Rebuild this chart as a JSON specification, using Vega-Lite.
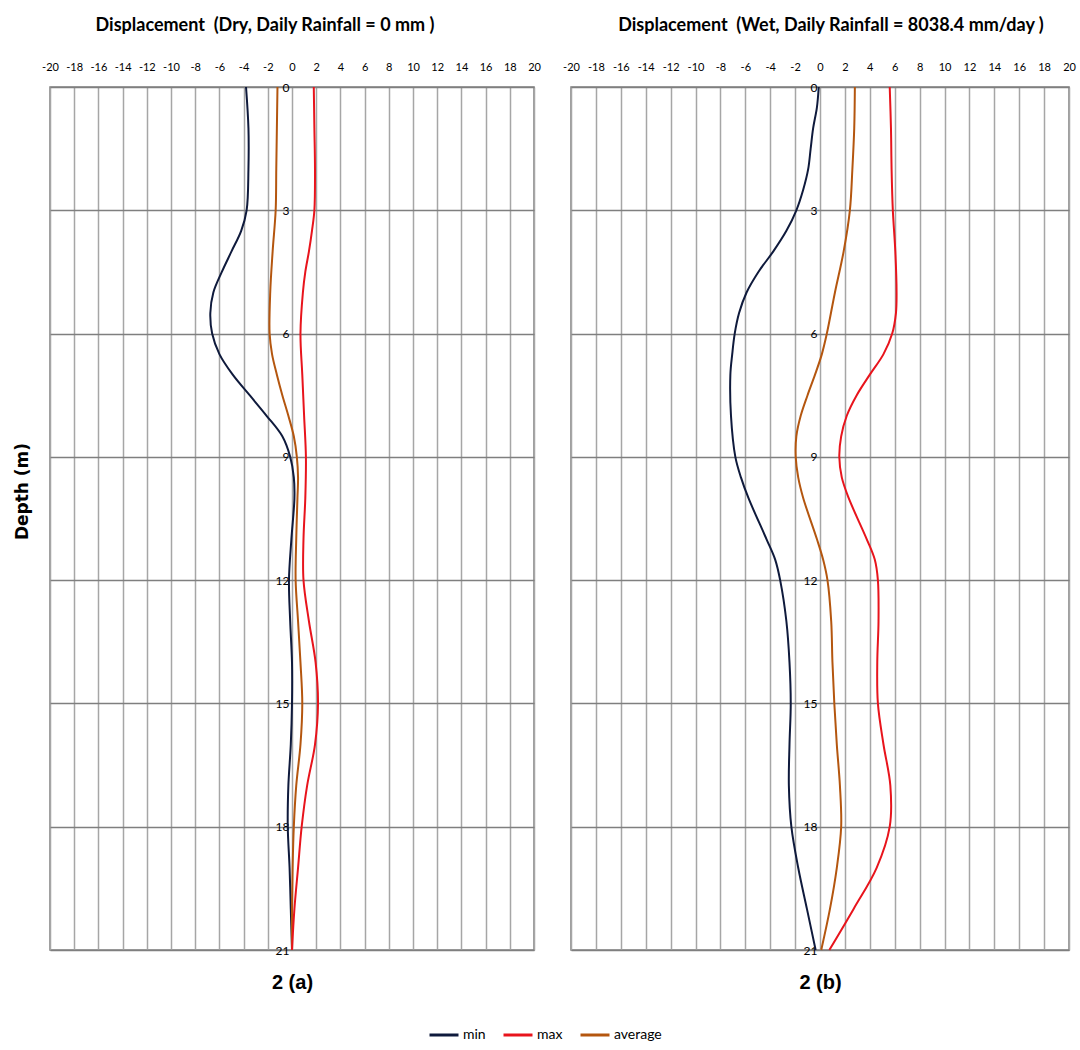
{
  "$schema": "https://vega.github.io/schema/vega-lite/v6.json",
  "background": "white",
  "padding": {"left": 12, "top": 16, "right": 0, "bottom": 0},
  "bounds": "flush",
  "spacing": 37,
  "config": {
    "font": "Lato",
    "view": {"stroke": "#7f7f7f", "strokeWidth": 1.5},
    "axis": {"labelFont": "Lato", "labelColor": "#000000", "titleColor": "#000000", "labelFontSize": 11},
    "title": {"font": "Lato", "fontSize": 18, "fontWeight": "bold", "color": "#000000", "offset": 26, "anchor": "middle"},
    "legend": {"labelFont": "Lato", "labelColor": "#000000"}
  },
  "datasets": {
    "dry": [
      {"series": "min", "depth": 0, "disp": -3.8},
      {"series": "min", "depth": 1, "disp": -3.6},
      {"series": "min", "depth": 2, "disp": -3.6},
      {"series": "min", "depth": 3, "disp": -3.75},
      {"series": "min", "depth": 3.5, "disp": -4.2},
      {"series": "min", "depth": 4, "disp": -5.0},
      {"series": "min", "depth": 4.5, "disp": -5.8},
      {"series": "min", "depth": 5, "disp": -6.5},
      {"series": "min", "depth": 5.5, "disp": -6.75},
      {"series": "min", "depth": 6, "disp": -6.6},
      {"series": "min", "depth": 6.5, "disp": -6.0},
      {"series": "min", "depth": 7, "disp": -4.9},
      {"series": "min", "depth": 7.5, "disp": -3.5},
      {"series": "min", "depth": 8, "disp": -2.1},
      {"series": "min", "depth": 8.5, "disp": -0.8},
      {"series": "min", "depth": 9, "disp": -0.15},
      {"series": "min", "depth": 9.5, "disp": 0.15},
      {"series": "min", "depth": 10, "disp": 0.2},
      {"series": "min", "depth": 11, "disp": -0.05},
      {"series": "min", "depth": 12, "disp": -0.25},
      {"series": "min", "depth": 13, "disp": -0.15},
      {"series": "min", "depth": 14, "disp": 0},
      {"series": "min", "depth": 15, "disp": 0},
      {"series": "min", "depth": 16, "disp": -0.1},
      {"series": "min", "depth": 17, "disp": -0.3},
      {"series": "min", "depth": 18, "disp": -0.35},
      {"series": "min", "depth": 19, "disp": -0.2},
      {"series": "min", "depth": 20, "disp": -0.1},
      {"series": "min", "depth": 21, "disp": 0},
      {"series": "average", "depth": 0, "disp": -1.2},
      {"series": "average", "depth": 1, "disp": -1.25},
      {"series": "average", "depth": 2, "disp": -1.3},
      {"series": "average", "depth": 3, "disp": -1.35},
      {"series": "average", "depth": 4, "disp": -1.6},
      {"series": "average", "depth": 5, "disp": -1.8},
      {"series": "average", "depth": 6, "disp": -1.85},
      {"series": "average", "depth": 6.5, "disp": -1.65},
      {"series": "average", "depth": 7, "disp": -1.25},
      {"series": "average", "depth": 7.5, "disp": -0.8},
      {"series": "average", "depth": 8, "disp": -0.3},
      {"series": "average", "depth": 8.5, "disp": 0.15},
      {"series": "average", "depth": 9, "disp": 0.4},
      {"series": "average", "depth": 9.5, "disp": 0.5},
      {"series": "average", "depth": 10, "disp": 0.45},
      {"series": "average", "depth": 11, "disp": 0.35},
      {"series": "average", "depth": 12, "disp": 0.3},
      {"series": "average", "depth": 13, "disp": 0.5},
      {"series": "average", "depth": 14, "disp": 0.7},
      {"series": "average", "depth": 15, "disp": 0.85},
      {"series": "average", "depth": 16, "disp": 0.7},
      {"series": "average", "depth": 17, "disp": 0.35},
      {"series": "average", "depth": 18, "disp": 0.15},
      {"series": "average", "depth": 19, "disp": 0.05},
      {"series": "average", "depth": 20, "disp": 0},
      {"series": "average", "depth": 21, "disp": 0},
      {"series": "max", "depth": 0, "disp": 1.8},
      {"series": "max", "depth": 1, "disp": 1.85},
      {"series": "max", "depth": 2, "disp": 1.9},
      {"series": "max", "depth": 3, "disp": 1.85},
      {"series": "max", "depth": 3.5, "disp": 1.65},
      {"series": "max", "depth": 4, "disp": 1.4},
      {"series": "max", "depth": 4.5, "disp": 1.1},
      {"series": "max", "depth": 5, "disp": 0.9},
      {"series": "max", "depth": 6, "disp": 0.7},
      {"series": "max", "depth": 7, "disp": 0.85},
      {"series": "max", "depth": 8, "disp": 1.0},
      {"series": "max", "depth": 9, "disp": 1.15},
      {"series": "max", "depth": 10, "disp": 1.1},
      {"series": "max", "depth": 11, "disp": 0.95},
      {"series": "max", "depth": 12, "disp": 0.95},
      {"series": "max", "depth": 13, "disp": 1.4},
      {"series": "max", "depth": 14, "disp": 1.95},
      {"series": "max", "depth": 15, "disp": 2.15},
      {"series": "max", "depth": 16, "disp": 1.9},
      {"series": "max", "depth": 17, "disp": 1.25},
      {"series": "max", "depth": 18, "disp": 0.8},
      {"series": "max", "depth": 19, "disp": 0.5},
      {"series": "max", "depth": 20, "disp": 0.2},
      {"series": "max", "depth": 21, "disp": 0}
    ],
    "wet": [
      {"series": "min", "depth": 0, "disp": -0.1},
      {"series": "min", "depth": 0.5, "disp": -0.25},
      {"series": "min", "depth": 1, "disp": -0.55},
      {"series": "min", "depth": 1.5, "disp": -0.75},
      {"series": "min", "depth": 2, "disp": -0.95},
      {"series": "min", "depth": 2.5, "disp": -1.35},
      {"series": "min", "depth": 3, "disp": -1.9},
      {"series": "min", "depth": 3.5, "disp": -2.7},
      {"series": "min", "depth": 4, "disp": -3.75},
      {"series": "min", "depth": 4.5, "disp": -4.95},
      {"series": "min", "depth": 5, "disp": -5.9},
      {"series": "min", "depth": 5.5, "disp": -6.5},
      {"series": "min", "depth": 6, "disp": -6.85},
      {"series": "min", "depth": 6.5, "disp": -7.05},
      {"series": "min", "depth": 7, "disp": -7.2},
      {"series": "min", "depth": 8, "disp": -7.15},
      {"series": "min", "depth": 9, "disp": -6.8},
      {"series": "min", "depth": 9.5, "disp": -6.35},
      {"series": "min", "depth": 10, "disp": -5.75},
      {"series": "min", "depth": 11, "disp": -4.3},
      {"series": "min", "depth": 11.5, "disp": -3.6},
      {"series": "min", "depth": 12, "disp": -3.2},
      {"series": "min", "depth": 13, "disp": -2.7},
      {"series": "min", "depth": 14, "disp": -2.45},
      {"series": "min", "depth": 15, "disp": -2.35},
      {"series": "min", "depth": 16, "disp": -2.45},
      {"series": "min", "depth": 17, "disp": -2.5},
      {"series": "min", "depth": 18, "disp": -2.3},
      {"series": "min", "depth": 19, "disp": -1.75},
      {"series": "min", "depth": 20, "disp": -1.05},
      {"series": "min", "depth": 21, "disp": -0.35},
      {"series": "average", "depth": 0, "disp": 2.8},
      {"series": "average", "depth": 1, "disp": 2.75},
      {"series": "average", "depth": 2, "disp": 2.6},
      {"series": "average", "depth": 3, "disp": 2.4},
      {"series": "average", "depth": 4, "disp": 1.9},
      {"series": "average", "depth": 5, "disp": 1.2},
      {"series": "average", "depth": 6, "disp": 0.55},
      {"series": "average", "depth": 6.5, "disp": 0.15},
      {"series": "average", "depth": 7, "disp": -0.4},
      {"series": "average", "depth": 7.5, "disp": -1.0},
      {"series": "average", "depth": 8, "disp": -1.55},
      {"series": "average", "depth": 8.5, "disp": -1.9},
      {"series": "average", "depth": 9, "disp": -1.95},
      {"series": "average", "depth": 9.5, "disp": -1.75},
      {"series": "average", "depth": 10, "disp": -1.35},
      {"series": "average", "depth": 11, "disp": -0.25},
      {"series": "average", "depth": 11.5, "disp": 0.25},
      {"series": "average", "depth": 12, "disp": 0.6},
      {"series": "average", "depth": 13, "disp": 0.9},
      {"series": "average", "depth": 14, "disp": 1.0},
      {"series": "average", "depth": 15, "disp": 1.15},
      {"series": "average", "depth": 16, "disp": 1.35},
      {"series": "average", "depth": 17, "disp": 1.6},
      {"series": "average", "depth": 18, "disp": 1.7},
      {"series": "average", "depth": 19, "disp": 1.35},
      {"series": "average", "depth": 20, "disp": 0.8},
      {"series": "average", "depth": 21, "disp": 0.1},
      {"series": "max", "depth": 0, "disp": 5.6},
      {"series": "max", "depth": 1, "disp": 5.7},
      {"series": "max", "depth": 2, "disp": 5.75},
      {"series": "max", "depth": 3, "disp": 5.85},
      {"series": "max", "depth": 4, "disp": 6.05},
      {"series": "max", "depth": 5, "disp": 6.15},
      {"series": "max", "depth": 5.5, "disp": 6.1},
      {"series": "max", "depth": 6, "disp": 5.8},
      {"series": "max", "depth": 6.5, "disp": 5.1},
      {"series": "max", "depth": 7, "disp": 4.0},
      {"series": "max", "depth": 7.5, "disp": 2.95},
      {"series": "max", "depth": 8, "disp": 2.15},
      {"series": "max", "depth": 8.5, "disp": 1.7},
      {"series": "max", "depth": 9, "disp": 1.55},
      {"series": "max", "depth": 9.5, "disp": 1.75},
      {"series": "max", "depth": 10, "disp": 2.3},
      {"series": "max", "depth": 11, "disp": 3.75},
      {"series": "max", "depth": 11.5, "disp": 4.4},
      {"series": "max", "depth": 12, "disp": 4.65},
      {"series": "max", "depth": 13, "disp": 4.7},
      {"series": "max", "depth": 14, "disp": 4.6},
      {"series": "max", "depth": 15, "disp": 4.65},
      {"series": "max", "depth": 16, "disp": 5.1},
      {"series": "max", "depth": 17, "disp": 5.65},
      {"series": "max", "depth": 18, "disp": 5.6},
      {"series": "max", "depth": 19, "disp": 4.55},
      {"series": "max", "depth": 20, "disp": 2.7},
      {"series": "max", "depth": 21, "disp": 0.75}
    ]
  },
  "hconcat": [
    {
      "width": 484,
      "height": 863,
      "title": {"text": "Displacement\u00a0 (Dry, Daily Rainfall = 0 mm )", "dx": -27},
      "data": {"name": "dry"},
      "layer": [
        {
          "mark": {"type": "line", "interpolate": "catmull-rom", "strokeWidth": 2},
          "encoding": {
            "x": {"field": "disp", "type": "quantitative", "scale": {"domain": [-20, 20], "nice": false, "zero": false},
              "axis": {"orient": "top", "title": null, "values": [-20,-18,-16,-14,-12,-10,-8,-6,-4,-2,0,2,4,6,8,10,12,14,16,18,20], "labelExpr": "'' + datum.value", "ticks": false, "domain": false, "labelPadding": 15, "labelFlush": false, "labelOverlap": false, "grid": true, "gridColor": "#a6a6a6", "gridWidth": 1.5}},
            "y": {"field": "depth", "type": "quantitative", "scale": {"domain": [0, 21], "reverse": true, "nice": false, "zero": false},
              "axis": {"orient": "left", "offset": -242, "values": [0,3,6,9,12,15,18,21], "ticks": false, "domain": false, "labelPadding": 3, "labelFontSize": 12, "labelOverlap": false, "grid": true, "gridColor": "#7f7f7f", "gridWidth": 1.5,
                "title": "Depth (m)", "titleFont": "DejaVu Sans", "titleFontSize": 17, "titleFontWeight": "bold", "titleAngle": -90, "titleAlign": "center", "titleBaseline": "middle", "titleX": -270, "titleY": 404}},
            "color": {"field": "series", "type": "nominal", "scale": {"domain": ["min", "max", "average"], "range": ["#0f1a3c", "#e8141c", "#b4560f"]},
              "legend": {"orient": "none", "legendX": 378, "legendY": 932, "direction": "horizontal", "title": null, "symbolType": "stroke", "symbolSize": 841, "symbolStrokeWidth": 3, "labelFontSize": 14, "labelOffset": 3, "columnPadding": 11}},
            "order": {"field": "depth", "type": "quantitative"}
          }
        },
        {
          "mark": {"type": "rule", "opacity": 0},
          "encoding": {
            "x": {"datum": 0, "type": "quantitative", "axis": {"orient": "bottom", "title": "2 (a)", "labels": false, "ticks": false, "domain": false, "grid": false, "titleFont": "Liberation Sans", "titleFontSize": 20, "titleFontWeight": "bold", "titlePadding": 22}}
          }
        }
      ],
      "resolve": {"axis": {"x": "independent"}}
    },
    {
      "width": 498,
      "height": 863,
      "title": {"text": "Displacement\u00a0 (Wet, Daily Rainfall = 8038.4 mm/day )", "dx": 11},
      "data": {"name": "wet"},
      "layer": [
        {
          "mark": {"type": "line", "interpolate": "catmull-rom", "strokeWidth": 2},
          "encoding": {
            "x": {"field": "disp", "type": "quantitative", "scale": {"domain": [-20, 20], "nice": false, "zero": false},
              "axis": {"orient": "top", "title": null, "values": [-20,-18,-16,-14,-12,-10,-8,-6,-4,-2,0,2,4,6,8,10,12,14,16,18,20], "labelExpr": "'' + datum.value", "ticks": false, "domain": false, "labelPadding": 15, "labelFlush": false, "labelOverlap": false, "grid": true, "gridColor": "#a6a6a6", "gridWidth": 1.5}},
            "y": {"field": "depth", "type": "quantitative", "scale": {"domain": [0, 21], "reverse": true, "nice": false, "zero": false},
              "axis": {"orient": "left", "offset": -249, "values": [0,3,6,9,12,15,18,21], "ticks": false, "domain": false, "labelPadding": 3, "labelFontSize": 12, "labelOverlap": false, "grid": true, "gridColor": "#7f7f7f", "gridWidth": 1.5, "title": null}},
            "color": {"field": "series", "type": "nominal", "scale": {"domain": ["min", "max", "average"], "range": ["#0f1a3c", "#e8141c", "#b4560f"]}},
            "order": {"field": "depth", "type": "quantitative"}
          }
        },
        {
          "mark": {"type": "rule", "opacity": 0},
          "encoding": {
            "x": {"datum": 0, "type": "quantitative", "axis": {"orient": "bottom", "title": "2 (b)", "labels": false, "ticks": false, "domain": false, "grid": false, "titleFont": "Liberation Sans", "titleFontSize": 20, "titleFontWeight": "bold", "titlePadding": 22}}
          }
        }
      ],
      "resolve": {"axis": {"x": "independent"}}
    }
  ]
}
